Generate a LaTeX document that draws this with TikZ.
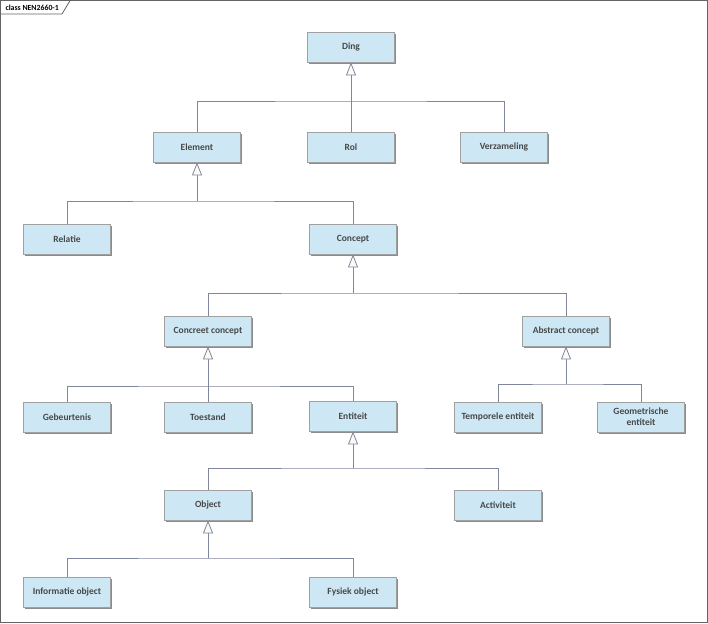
\documentclass[tikz,border=0pt]{standalone}
\usepackage{fontspec}
\setmainfont{Carlito}
\usepackage{xcolor}
\usetikzlibrary{arrows.meta}
\definecolor{boxFill}{RGB}{205,232,244}
\definecolor{boxLine}{RGB}{160,160,160}
\definecolor{boxShade}{RGB}{140,140,140}
\definecolor{linkGray}{RGB}{128,134,158}
\definecolor{tipFill}{RGB}{253,250,244}
\definecolor{txtGray}{RGB}{72,72,72}
\definecolor{frameGray}{RGB}{100,100,100}

\begin{document}
\begin{tikzpicture}[
    x=1pt, y=-1pt,
    every node/.style={font=\fontsize{9.5}{11}\selectfont\bfseries, text=txtGray},
    cls/.style   ={rectangle, draw=boxLine, fill=boxFill, line width=0.8pt, align=center, minimum width=87pt, minimum height=30pt, inner sep=1pt,
                   preaction={fill=boxShade, draw=none, transform canvas={shift={(1.6pt,-1.6pt)}}}},
    link/.style  ={draw=linkGray, line width=0.9pt},
    gen/.style   ={-{Triangle[length=13pt, width=10pt, fill=tipFill, line width=0.8pt]}, draw=linkGray, line width=0.9pt}
]
\useasboundingbox (0,0) rectangle (708,623);
% frame and tab
\draw[frameGray, line width=1.4pt] (0.7,0.7) rectangle (707.3,622.3);
\draw[frameGray, line width=0.8pt] (0.7,14) -- (62,14) -- (70,0.7);
\node[anchor=west, font=\fontsize{7.8}{8}\selectfont\bfseries, text=black] (title) at (2,7.5) {class NEN2660-1};

% classes
\node[cls] (ding)     at (351,47)  {Ding};
\node[cls] (element)  at (197,147) {Element};
\node[cls] (rol)      at (351,147) {Rol};
\node[cls] (verzam)   at (504,147) {Verzameling};
\node[cls] (relatie)  at (67,239)  {Relatie};
\node[cls] (concept)  at (353,239) {Concept};
\node[cls] (concreet) at (208,331) {Concreet concept};
\node[cls] (abstract) at (566,331) {Abstract concept};
\node[cls] (gebeurt)  at (67,417)  {Gebeurtenis};
\node[cls] (toestand) at (208,417) {Toestand};
\node[cls] (entiteit) at (353,416) {Entiteit};
\node[cls] (tempor)   at (498,417) {Temporele entiteit};
\node[cls] (geomet)   at (641,417) {Geometrische\\entiteit};
\node[cls] (object)   at (208,505) {Object};
\node[cls] (activ)    at (498,505) {Activiteit};
\node[cls] (info)     at (67,592)  {Informatie object};
\node[cls] (fysiek)   at (353,592) {Fysiek object};

% generalisation junctions
\coordinate (jding)     at (351,101);
\coordinate (jelement)  at (197,201);
\coordinate (jconcept)  at (353,293);
\coordinate (jconcreet) at (208,386);
\coordinate (jabstract) at (566,384);
\coordinate (jentiteit) at (353,468);
\coordinate (jobject)   at (208,558);

\draw[link] (element.north) |- (jding) -| (verzam.north);
\draw[link] (rol) -- (jding);
\draw[gen] (jding) -- (ding);

\draw[link] (relatie.north) |- (jelement) -| (concept.north);
\draw[gen] (jelement) -- (element);

\draw[link] (concreet.north) |- (jconcept) -| (abstract.north);
\draw[gen] (jconcept) -- (concept);

\draw[link] (gebeurt.north) |- (jconcreet) -| (entiteit.north);
\draw[link] (toestand) -- (jconcreet);
\draw[gen] (jconcreet) -- (concreet);

\draw[link] (tempor.north) |- (jabstract) -| (geomet.north);
\draw[gen] (jabstract) -- (abstract);

\draw[link] (object.north) |- (jentiteit) -| (activ.north);
\draw[gen] (jentiteit) -- (entiteit);

\draw[link] (info.north) |- (jobject) -| (fysiek.north);
\draw[gen] (jobject) -- (object);
\end{tikzpicture}
\end{document}
